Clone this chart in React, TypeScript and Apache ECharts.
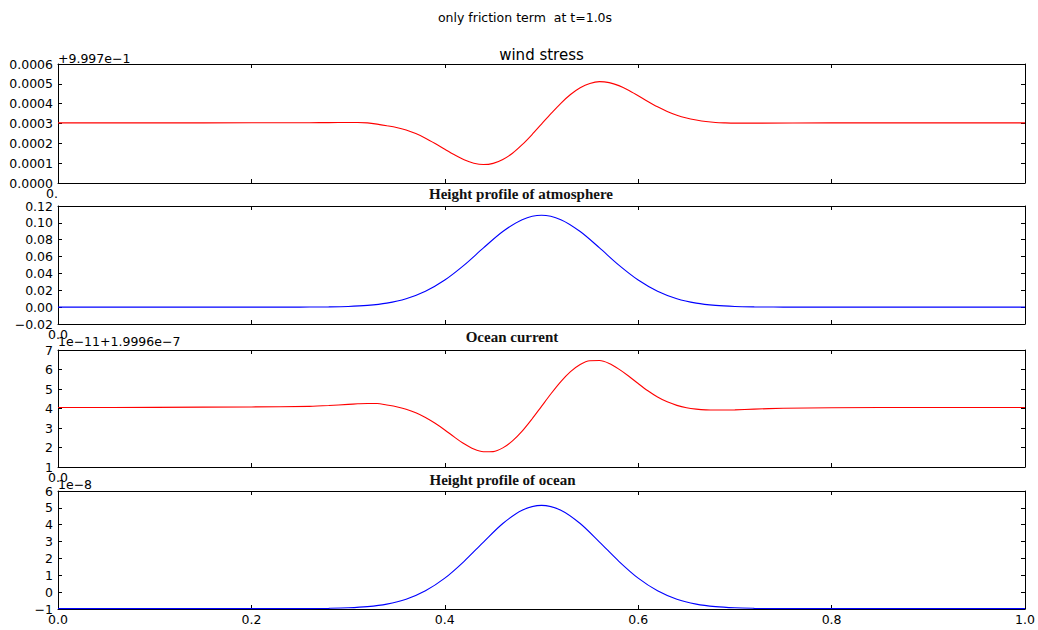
import { useEffect, useRef } from "react";
import * as echarts from "echarts";

const SUPTITLE = "only friction term  at t=1.0s";
const PANEL_TITLES = ["wind stress", "Height profile of atmosphere", "Ocean current", "Height profile of ocean"];
const OFFSET_TEXTS = ["+9.997e\u22121", "", "1e\u221211+1.9996e\u22127", "1e\u22128"];

// Panel 1: wind stress, in units of 1e-4 above the offset +9.997e-1
const windX = [0, 0.1, 0.2, 0.26, 0.28, 0.3, 0.31, 0.32, 0.33, 0.34, 0.35, 0.36, 0.37, 0.38, 0.39, 0.4, 0.41, 0.42, 0.43, 0.44, 0.45, 0.46, 0.47, 0.48, 0.49, 0.5, 0.51, 0.52, 0.53, 0.54, 0.55, 0.56, 0.57, 0.58, 0.59, 0.6, 0.61, 0.62, 0.63, 0.64, 0.65, 0.66, 0.67, 0.68, 0.69, 0.7, 0.72, 0.8, 0.9, 1.0];
const windY = [3.03, 3.03, 3.035, 3.04, 3.045, 3.05, 3.05, 3.03, 2.97, 2.89, 2.8, 2.67, 2.49, 2.26, 1.99, 1.7, 1.42, 1.17, 1.0, 0.93, 0.99, 1.19, 1.5, 1.93, 2.43, 2.97, 3.51, 4.02, 4.46, 4.8, 5.02, 5.11, 5.06, 4.91, 4.68, 4.4, 4.11, 3.84, 3.61, 3.42, 3.28, 3.18, 3.1, 3.05, 3.03, 3.02, 3.02, 3.03, 3.03, 3.03];
const WIND_UNIT = 1e-4;

// Panel 2: height profile of atmosphere
const atmX = [0, 0.1, 0.2, 0.24, 0.26, 0.28, 0.3, 0.32, 0.34, 0.36, 0.38, 0.4, 0.42, 0.44, 0.46, 0.48, 0.5, 0.52, 0.54, 0.56, 0.58, 0.6, 0.62, 0.64, 0.66, 0.68, 0.7, 0.72, 0.74, 0.76, 0.8, 0.9, 1.0];
const atmY = [0, 0, 0, 0, 0.0001, 0.0003, 0.0008, 0.0021, 0.0048, 0.01, 0.0189, 0.0322, 0.0499, 0.0703, 0.0897, 0.1038, 0.109, 0.1038, 0.0897, 0.0703, 0.0499, 0.0322, 0.0189, 0.01, 0.0048, 0.0021, 0.0008, 0.0003, 0.0001, 0, 0, 0, 0];

// Panel 3: ocean current (units of 1e-11, offset 1.9996e-7)
const curX = [0, 0.1, 0.2, 0.26, 0.28, 0.3, 0.31, 0.32, 0.33, 0.34, 0.35, 0.36, 0.37, 0.38, 0.39, 0.4, 0.41, 0.42, 0.43, 0.44, 0.45, 0.46, 0.47, 0.48, 0.49, 0.5, 0.51, 0.52, 0.53, 0.54, 0.55, 0.56, 0.57, 0.58, 0.59, 0.6, 0.61, 0.62, 0.63, 0.64, 0.65, 0.66, 0.67, 0.68, 0.69, 0.7, 0.72, 0.75, 0.8, 0.9, 1.0];
const curY = [4.05, 4.06, 4.08, 4.11, 4.15, 4.21, 4.24, 4.26, 4.26, 4.18, 4.09, 3.96, 3.78, 3.54, 3.24, 2.9, 2.53, 2.19, 1.92, 1.78, 1.79, 1.98, 2.34, 2.84, 3.45, 4.11, 4.77, 5.38, 5.89, 6.26, 6.45, 6.46, 6.31, 6.02, 5.67, 5.28, 4.91, 4.59, 4.34, 4.16, 4.04, 3.97, 3.93, 3.92, 3.92, 3.93, 3.97, 4.01, 4.04, 4.05, 4.05];

// Panel 4: height profile of ocean (units of 1e-8)
const ocnX = atmX;
const ocnY = [-0.98, -0.98, -0.98, -0.98, -0.975, -0.96, -0.93, -0.86, -0.71, -0.42, 0.08, 0.83, 1.83, 2.97, 4.07, 4.86, 5.15, 4.86, 4.07, 2.97, 1.83, 0.83, 0.08, -0.42, -0.71, -0.86, -0.93, -0.96, -0.975, -0.98, -0.98, -0.98, -0.98];

const X_MIN = 0;
const X_MAX = 1;
const X_INTERVAL = 0.2;

const FONT = "DejaVu Sans";
const TICK_SIZE = 12.5;
const minus = (s: string) => s.replace(/-/g, "\u2212");
const clean = (v: number) => (Math.abs(v) < 1e-12 ? 0 : v);

export default function App() {
  const ref = useRef<HTMLDivElement>(null);
  useEffect(() => {
    if (!ref.current) return;
    const chart = echarts.init(ref.current, undefined, { renderer: "svg" });

    const panels = [
      { top: 64, height: 119, yMin: 0, yMax: 0.0006, yInt: 0.0001, yFmt: (v: number) => clean(v).toFixed(4), xFmt: (v: number) => (clean(v) === 0 ? "0." : ""), xAlign: "right", x: windX, y: windY.map((v) => v * WIND_UNIT), color: "#ff0000" },
      { top: 206, height: 118, yMin: -0.02, yMax: 0.12, yInt: 0.02, yFmt: (v: number) => minus(clean(v).toFixed(2)), xFmt: (v: number) => (clean(v) === 0 ? "0.0" : ""), xAlign: "center", x: atmX, y: atmY, color: "#0000ff" },
      { top: 350, height: 117, yMin: 1, yMax: 7, yInt: 1, yFmt: (v: number) => minus(String(Math.round(v))), xFmt: (v: number) => (clean(v) === 0 ? "0.0" : ""), xAlign: "center", x: curX, y: curY, color: "#ff0000" },
      { top: 491, height: 118, yMin: -1, yMax: 6, yInt: 1, yFmt: (v: number) => minus(String(Math.round(v))), xFmt: (v: number) => clean(v).toFixed(1), xAlign: "center", x: ocnX, y: ocnY, color: "#0000ff" },
    ];

    const axisLine = { show: true, onZero: false, lineStyle: { color: "#000", width: 1 } };
    const axisTick = { show: true, inside: true, length: 4, lineStyle: { color: "#000", width: 1 } };

    const grids: any[] = [];
    const xAxes: any[] = [];
    const yAxes: any[] = [];
    const series: any[] = [];

    panels.forEach((p, i) => {
      grids.push({ left: 58, width: 967, top: p.top, height: p.height, containLabel: false });
      xAxes.push({
        type: "value", gridIndex: i, position: "bottom", min: X_MIN, max: X_MAX, interval: X_INTERVAL,
        axisLine, axisTick, splitLine: { show: false },
        axisLabel: { show: true, formatter: p.xFmt, align: p.xAlign, margin: 4, color: "#000", fontFamily: FONT, fontSize: TICK_SIZE },
      });
      xAxes.push({
        type: "value", gridIndex: i, position: "top", min: X_MIN, max: X_MAX, interval: X_INTERVAL,
        axisLine, axisTick, splitLine: { show: false }, axisLabel: { show: false },
      });
      yAxes.push({
        type: "value", gridIndex: i, position: "left", min: p.yMin, max: p.yMax, interval: p.yInt,
        axisLine, axisTick, splitLine: { show: false },
        axisLabel: { show: true, formatter: p.yFmt, margin: 5, color: "#000", fontFamily: FONT, fontSize: TICK_SIZE },
      });
      yAxes.push({
        type: "value", gridIndex: i, position: "right", min: p.yMin, max: p.yMax, interval: p.yInt,
        axisLine, axisTick, splitLine: { show: false }, axisLabel: { show: false },
      });
      series.push({
        type: "line", xAxisIndex: 2 * i, yAxisIndex: 2 * i,
        data: p.x.map((xv, k) => [xv, p.y[k]]),
        showSymbol: false, smooth: 0.3,
        lineStyle: { color: p.color, width: 1.1 }, itemStyle: { color: p.color },
      });
    });

    const serifStyle = { fontFamily: "Liberation Serif", fontWeight: "bold", fontSize: 15, fill: "#111" };
    const graphic: any[] = [
      { type: "text", x: 525, y: 17, style: { text: SUPTITLE, fontFamily: FONT, fontSize: 12.5, fill: "#000", textAlign: "center", textVerticalAlign: "middle" } },
      { type: "text", x: 541.5, y: 55, style: { text: PANEL_TITLES[0], fontFamily: FONT, fontSize: 15, fill: "#000", textAlign: "center", textVerticalAlign: "middle" } },
      { type: "text", x: 521, y: 194, style: { ...serifStyle, text: PANEL_TITLES[1], textAlign: "center", textVerticalAlign: "middle" } },
      { type: "text", x: 512, y: 337, style: { ...serifStyle, text: PANEL_TITLES[2], textAlign: "center", textVerticalAlign: "middle" } },
      { type: "text", x: 502.5, y: 479.5, style: { ...serifStyle, text: PANEL_TITLES[3], textAlign: "center", textVerticalAlign: "middle" } },
      { type: "text", x: 58, y: 58, style: { text: OFFSET_TEXTS[0], fontFamily: FONT, fontSize: TICK_SIZE, fill: "#000", textAlign: "left", textVerticalAlign: "middle" } },
      { type: "text", x: 58, y: 341, style: { text: OFFSET_TEXTS[2], fontFamily: FONT, fontSize: TICK_SIZE, fill: "#000", textAlign: "left", textVerticalAlign: "middle" } },
      { type: "text", x: 58, y: 484, style: { text: OFFSET_TEXTS[3], fontFamily: FONT, fontSize: TICK_SIZE, fill: "#000", textAlign: "left", textVerticalAlign: "middle" } },
    ];

    chart.setOption({
      animation: false,
      backgroundColor: "#fff",
      grid: grids,
      xAxis: xAxes,
      yAxis: yAxes,
      series,
      graphic,
    });
    return () => chart.dispose();
  }, []);

  return <div ref={ref} style={{ position: "fixed", left: 0, top: 0, width: 1038, height: 630, background: "#fff" }} />;
}
